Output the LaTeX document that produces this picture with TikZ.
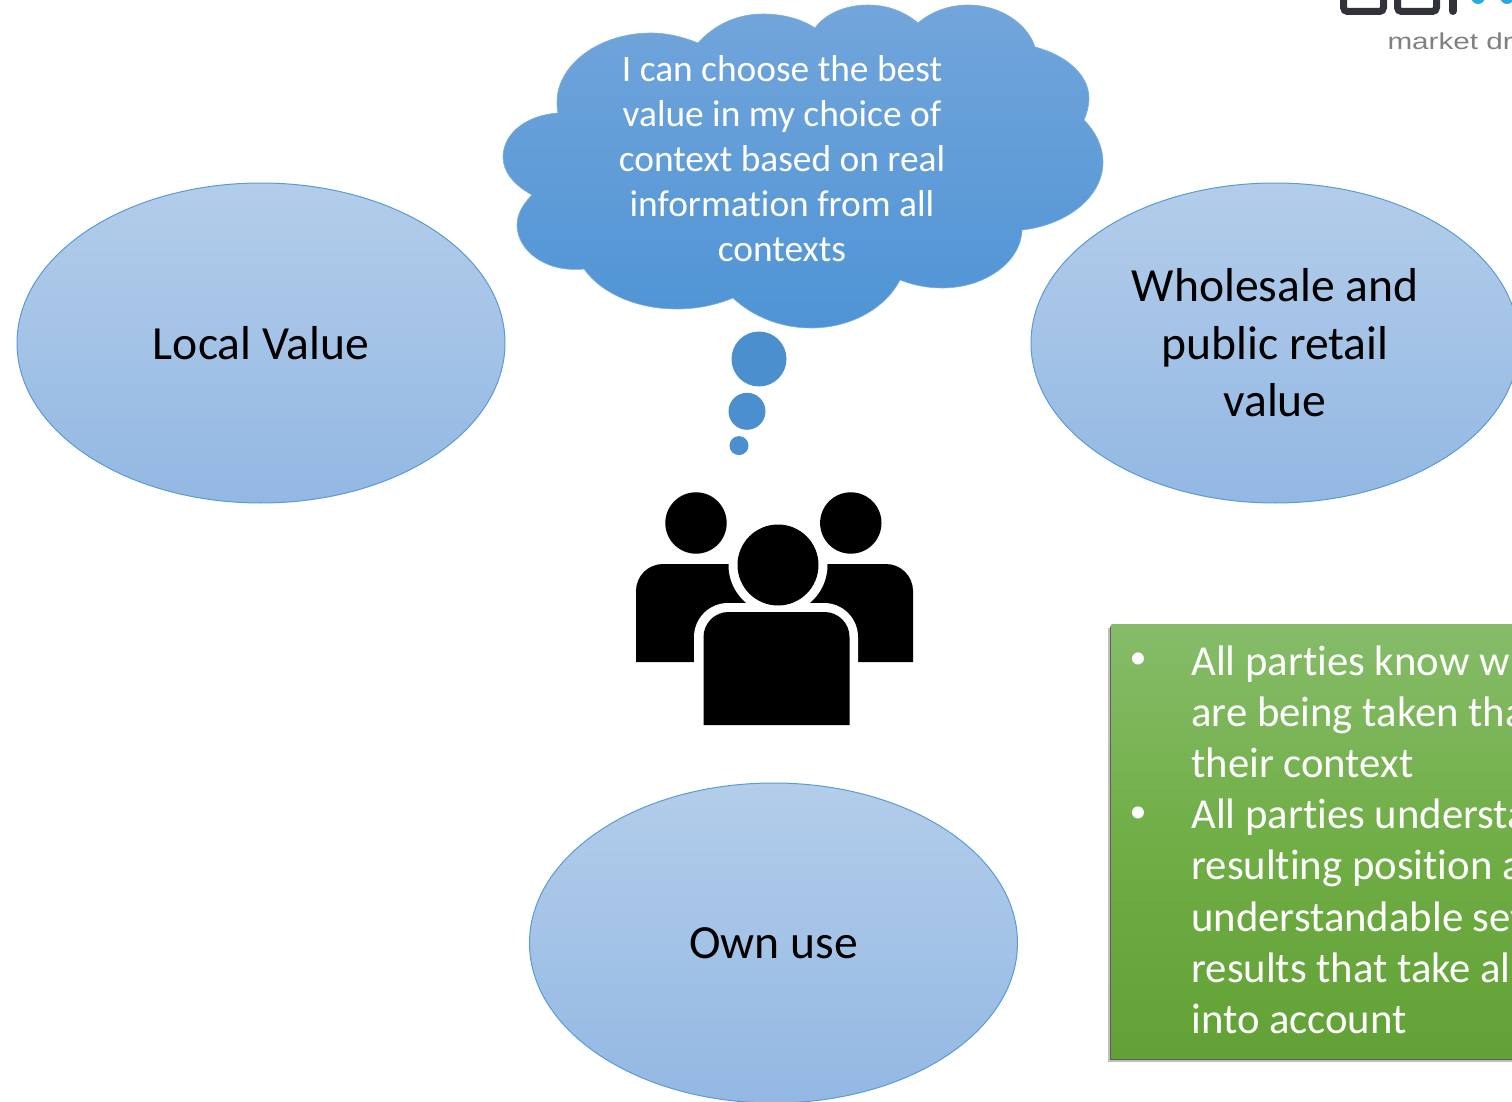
\documentclass[tikz,border=0pt]{standalone}
\usepackage{fontspec}
\setmainfont{Carlito}[Ligatures=NoCommon]
\newfontfamily\logofont{Liberation Sans}
\usetikzlibrary{positioning}
\usetikzlibrary{shapes.geometric}
\usetikzlibrary{shadows}

\definecolor{ovaltop}{HTML}{B3CDEA}
\definecolor{ovalbottom}{HTML}{93B8E3}
\definecolor{ovalline}{HTML}{5B9BD5}
\definecolor{cloudtop}{HTML}{72A5DB}
\definecolor{cloudbottom}{HTML}{4F94D5}
\definecolor{bubblefill}{HTML}{4C8FCF}
\definecolor{greentop}{HTML}{86BC69}
\definecolor{greenmid}{HTML}{70AE46}
\definecolor{greenbottom}{HTML}{62A135}
\definecolor{logodark}{HTML}{32323A}
\definecolor{logoblue}{HTML}{29A9E0}

\begin{document}
\begin{tikzpicture}[
x=0.5pt,y=-0.5pt,
valueoval/.style={
	% The shape:
	ellipse,inner sep=0pt,
	minimum width=244pt,minimum height=160pt,
	% The border and filling:
	draw=ovalline,line width=0.5pt,
	top color=ovaltop,bottom color=ovalbottom,
	% Font
	align=center,text=black,font=\fontsize{23.8}{28.75}\selectfont},
bubble/.style={circle,inner sep=0pt,fill=bubblefill},
personhead/.style={circle,inner sep=0pt,fill=black},
greenline/.style={font=\fontsize{21.35}{25.6}\selectfont,text=white,inner sep=0pt},
]

\useasboundingbox (0,0) rectangle (1512,1102);
\clip (0,0) rectangle (1512,1102);

% logo corner
\draw[logodark,line width=3.5pt,rounded corners=2pt] (1343.5,-10) -- (1343.5,11.5) -- (1383.5,11.5) -- (1383.5,-10);
\draw[logodark,line width=3.5pt,rounded corners=2pt] (1397.5,-10) -- (1397.5,11.5) -- (1436.5,11.5) -- (1436.5,-10);
\draw[logodark,line width=4pt,line cap=round] (1453,-10) -- (1453,11);
\fill[logoblue] (1478,-3) circle (3.5pt);
\fill[logoblue] (1507,-3) circle (3.5pt);
\node (logotext) [anchor=base west,inner sep=0pt,text=black!50,xscale=1.29,font=\logofont\fontsize{11.5}{13}\selectfont] at (1387,50) {market dr};

% the three values
\node (local) [valueoval] at (261,343) {Local Value};
\node (wholesale) [valueoval,right=262.5pt of local] {Wholesale and\\public retail\\value};
\node (ownuse) [valueoval] at (773.5,943) {Own use};

% thought cloud
\draw[ovalline!80!white,line width=0.3pt,top color=cloudtop,bottom color=cloudbottom]
	(698,43) .. controls (715,24) and (738,14) .. (763,14)
	.. controls (785,14) and (803,20) .. (815,28)
	.. controls (825,14) and (845,5) .. (868,5)
	.. controls (888,5) and (905,12) .. (918,23)
	.. controls (932,11) and (950,5) .. (968,5)
	.. controls (1002,5) and (1028,25) .. (1035,47)
	.. controls (1066,55) and (1089,75) .. (1089,98)
	.. controls (1089,106) and (1087,113) .. (1084,120)
	.. controls (1096,132) and (1103,147) .. (1103,162)
	.. controls (1103,197) and (1067,225) .. (1022,230)
	.. controls (1021,262) and (985,288) .. (942,288)
	.. controls (927,288) and (913,285) .. (900,280)
	.. controls (885,309) and (850,328) .. (811,328)
	.. controls (780,328) and (752,316) .. (733,298)
	.. controls (716,305) and (697,309) .. (677,309)
	.. controls (636,309) and (601,293) .. (584,269)
	.. controls (545,273) and (517,250) .. (517,225)
	.. controls (517,214) and (523,204) .. (532,195)
	.. controls (514,185) and (503,172) .. (503,157)
	.. controls (503,133) and (527,115) .. (558,113)
	.. controls (557,109) and (557,105) .. (557,102)
	.. controls (557,64) and (600,33) .. (651,33)
	.. controls (667,33) and (683,37) .. (698,43) -- cycle;
\node (thought) [align=center,text=white,inner sep=0pt,font=\fontsize{18.7}{22.5}\selectfont] at (782,159) {I can choose the best\\value in my choice of\\context based on real\\information from all\\contexts};

\node (bubble_1) [bubble,minimum size=27.5pt] at (759,359) {};
\node (bubble_2) [bubble,minimum size=18.5pt,below=2.75pt of bubble_1,xshift=-6pt] {};
\node (bubble_3) [bubble,minimum size=9.5pt,below=2.75pt of bubble_2,xshift=-4pt] {};

% people
\fill[black,rounded corners=13.5pt] (636,662) [sharp corners] -- (636,620) [rounded corners=13.5pt] -- (636,564) -- (913,564) [sharp corners] -- (913,620) -- (913,662) -- cycle;
\fill[white,rounded corners=17pt] (694,740) [sharp corners] -- (694,680) [rounded corners=17pt] -- (694,603) -- (858,603) [sharp corners] -- (858,680) -- (858,740) -- cycle;
\node (head_left) [personhead,minimum size=30.7pt] at (696,523) {};
\node (head_right) [personhead,minimum size=30.7pt,right=46.3pt of head_left] {};
\node (head_ring) [circle,inner sep=0pt,fill=white,minimum size=49.5pt] at (778,565) {};
\node (head_mid) [personhead,minimum size=40.5pt] at (head_ring) {};
\fill[black,rounded corners=12.5pt] (703.5,725) [sharp corners] -- (703.5,680) [rounded corners=12.5pt] -- (703.5,612) -- (849.5,612) [sharp corners] -- (849.5,680) -- (849.5,725) -- cycle;

% green box
\node (greenbox) [anchor=north west,inner sep=0pt,minimum width=260pt,minimum height=217pt,
	top color=greentop,bottom color=greenbottom,middle color=greenmid,
	drop shadow={shadow xshift=-1.5pt,shadow yshift=-2pt,fill=black,opacity=.25},
	drop shadow={shadow xshift=-.7pt,shadow yshift=-1pt,fill=black,opacity=.5}] at (1111,624) {};
\node (dot_1) [greenline,anchor=center,font=\fontsize{17}{20}\selectfont] at (1138,661) {\textbullet};
\node (dot_2) [greenline,anchor=center,font=\fontsize{17}{20}\selectfont] at (1138,815) {\textbullet};
\node (greentext) [greenline,anchor=north west,align=left] at (1191,645) {All parties know wh\\are being taken that\\their context\\All parties understan\\resulting position an\\understandable set\\results that take all\\into account};
\end{tikzpicture}
\end{document}
